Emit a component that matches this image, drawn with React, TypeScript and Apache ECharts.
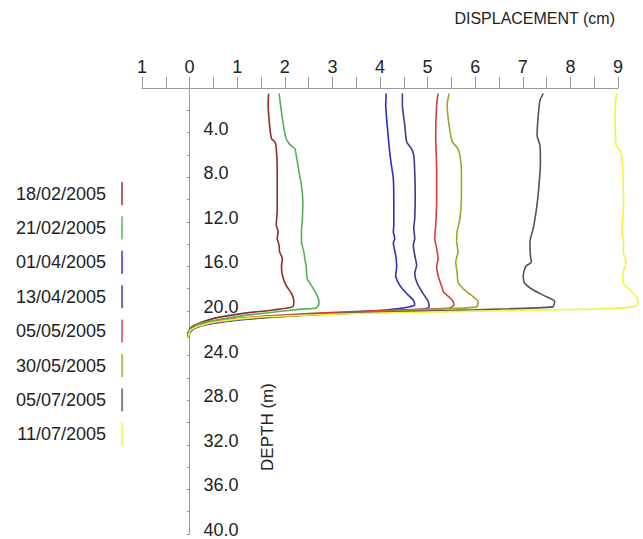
import React, { useEffect, useRef } from "react";
import * as echarts from "echarts";

const FONT = "'Liberation Sans', Arial, sans-serif";

const dates = [
  "18/02/2005",
  "21/02/2005",
  "01/04/2005",
  "13/04/2005",
  "05/05/2005",
  "30/05/2005",
  "05/07/2005",
  "11/07/2005",
];

const colors = ["#8b2e2e", "#55b055", "#2f2fc4", "#3b3b86", "#d63c3c", "#a3a32a", "#555555", "#f2f244"];

// [displacement (cm), depth (m)]
const s1802 = [[1.66,0.5],[1.65,1.5],[1.68,3.3],[1.72,4.5],[1.79,4.8],[1.82,5.3],[1.84,7.2],[1.84,9.3],[1.84,11.0],[1.82,12.2],[1.86,12.8],[1.84,13.4],[1.88,14.0],[1.89,14.6],[1.95,15.2],[1.93,15.9],[1.95,16.7],[2.03,17.6],[2.14,18.3],[2.19,19.0],[2.16,19.5],[1.79,19.75],[1.09,20.1],[0.53,20.5],[0.17,21.0],[0.04,21.3],[-0.04,21.9],[-0.03,22.2]];
const s2102 = [[1.88,0.5],[1.91,1.5],[1.96,3.0],[2.02,4.4],[2.10,5.0],[2.21,5.4],[2.24,6.0],[2.30,7.5],[2.35,8.7],[2.38,10.2],[2.37,11.6],[2.35,12.8],[2.35,13.7],[2.40,14.6],[2.42,15.2],[2.45,15.9],[2.47,17.0],[2.59,17.8],[2.70,18.7],[2.72,19.2],[2.66,19.6],[2.35,19.7],[1.79,19.95],[1.09,20.3],[0.53,20.7],[0.17,21.05],[0.04,21.4],[-0.04,21.9],[-0.03,22.2]];
const s0104 = [[4.13,0.5],[4.12,1.5],[4.17,4.2],[4.22,6.3],[4.28,8.1],[4.29,10.2],[4.29,12.2],[4.28,12.8],[4.31,13.4],[4.28,13.8],[4.33,14.9],[4.35,15.9],[4.33,16.7],[4.42,17.6],[4.56,18.3],[4.70,18.9],[4.73,19.3],[4.55,19.55],[3.89,19.85],[2.49,20.2],[1.09,20.65],[0.39,21.05],[0.11,21.4],[0.0,21.8],[-0.03,22.2]];
const s1304 = [[4.47,0.5],[4.47,1.5],[4.52,3.3],[4.56,4.8],[4.66,5.4],[4.71,6.0],[4.73,7.5],[4.74,9.6],[4.73,11.6],[4.71,12.5],[4.73,13.4],[4.70,14.0],[4.73,14.9],[4.77,15.8],[4.73,16.5],[4.78,17.4],[4.89,18.2],[5.01,19.0],[5.03,19.5],[4.94,19.7],[3.89,19.9],[2.49,20.2],[1.09,20.6],[0.39,21.0],[0.11,21.35],[0.0,21.8],[-0.03,22.2]];
const s0505 = [[5.22,0.5],[5.19,1.5],[5.17,4.2],[5.19,7.2],[5.19,10.2],[5.17,12.2],[5.15,13.4],[5.19,14.3],[5.22,15.2],[5.19,15.9],[5.22,16.7],[5.29,17.6],[5.34,18.2],[5.52,18.9],[5.55,19.3],[5.47,19.6],[3.89,19.85],[2.49,20.1],[1.09,20.5],[0.39,20.95],[0.11,21.3],[0.0,21.8],[-0.03,22.2]];
const s3005 = [[5.45,0.5],[5.41,1.5],[5.45,3.3],[5.52,4.8],[5.62,5.3],[5.68,6.0],[5.71,7.5],[5.71,9.6],[5.68,11.6],[5.62,12.8],[5.61,13.7],[5.64,14.6],[5.59,15.5],[5.62,16.4],[5.64,17.3],[5.78,18.0],[5.96,18.6],[6.06,19.0],[6.03,19.5],[5.5,19.65],[3.89,19.95],[2.49,20.25],[1.09,20.6],[0.39,21.0],[0.11,21.35],[0.0,21.8],[-0.03,22.2]];
const s0507 = [[7.43,0.5],[7.36,1.1],[7.32,2.7],[7.30,4.2],[7.36,5.1],[7.37,6.6],[7.34,8.7],[7.29,10.7],[7.22,12.5],[7.15,13.7],[7.16,14.9],[7.18,15.5],[7.06,15.9],[7.01,16.7],[7.04,17.4],[7.22,18.0],[7.50,18.6],[7.67,19.0],[7.63,19.5],[6.0,19.75],[3.89,20.0],[2.49,20.2],[1.09,20.6],[0.39,21.0],[0.11,21.35],[0.0,21.8],[-0.03,22.2]];
const s1107 = [[8.97,0.5],[8.94,1.5],[8.96,5.1],[9.06,5.7],[9.10,7.2],[9.11,8.7],[9.12,9.9],[9.10,11.6],[9.08,12.8],[9.12,13.7],[9.11,14.6],[9.17,15.5],[9.11,16.4],[9.10,17.3],[9.25,18.0],[9.39,18.6],[9.42,19.2],[9.32,19.5],[8.5,19.7],[6.5,19.85],[4.5,20.0],[3.0,20.15],[1.5,20.4],[0.6,20.8],[0.2,21.2],[0.02,21.6],[-0.03,22.2]];

const seriesData = [s1802, s2102, s0104, s1304, s0505, s3005, s0507, s1107];

const xTitle = "DISPLACEMENT (cm)";
const yTitle = "DEPTH (m)";

// axis extents
const X_MIN = -1;
const X_MAX = 9;
const X_DATA_MAX = 9.5;
const Y_MIN = 0;
const Y_MAX = 40;

export default function App() {
  const ref = useRef<HTMLDivElement>(null);

  useEffect(() => {
    if (!ref.current) return;
    const chart = echarts.init(ref.current, undefined, { renderer: "svg" });
    const axisColor = "#9a9a9a";
    const W = 643;
    const left = 142;
    const right = 25;
    const pxPerUnit = (W - left - right) / (X_MAX - X_MIN);
    const dataRight = W - left - pxPerUnit * (X_DATA_MAX - X_MIN);
    const zeroX = left + pxPerUnit * (0 - X_MIN);
    const hiddenAxis = { show: false };

    chart.setOption({
      animation: false,
      backgroundColor: "#ffffff",
      textStyle: { fontFamily: FONT },
      grid: [
        { left, right, top: 88, bottom: 2, containLabel: false },
        { left: 0, right: W - zeroX, top: 88, bottom: 2, containLabel: false },
        { left, right: dataRight, top: 88, bottom: 2, containLabel: false },
      ],
      xAxis: [
        {
          gridIndex: 0,
          type: "value",
          position: "top",
          min: X_MIN,
          max: X_MAX,
          interval: 0.5,
          axisLine: { onZero: false, lineStyle: { color: axisColor, width: 1 } },
          axisTick: { show: true, length: 11, lineStyle: { color: axisColor } },
          splitLine: { show: false },
          axisLabel: {
            margin: 12,
            fontSize: 18,
            color: "#222",
            fontFamily: FONT,
            formatter: (v: number) => (Number.isInteger(v) ? String(Math.abs(v)) : ""),
          },
        },
        { gridIndex: 1, type: "value", min: 0, max: 1, ...hiddenAxis },
        { gridIndex: 2, type: "value", min: X_MIN, max: X_DATA_MAX, ...hiddenAxis },
      ],
      yAxis: [
        { gridIndex: 0, type: "value", inverse: true, min: Y_MIN, max: Y_MAX, ...hiddenAxis },
        {
          gridIndex: 1,
          type: "value",
          position: "right",
          inverse: true,
          min: Y_MIN,
          max: Y_MAX,
          interval: 2,
          axisLine: { show: true, onZero: false, lineStyle: { color: axisColor, width: 1 } },
          axisTick: { show: true, inside: true, length: 3, lineStyle: { color: axisColor } },
          splitLine: { show: false },
          axisLabel: {
            margin: 14,
            fontSize: 18,
            color: "#222",
            fontFamily: FONT,
            verticalAlign: "bottom",
            lineHeight: 8,
            formatter: (v: number) => (v !== 0 && v % 4 === 0 ? v.toFixed(1) : ""),
          },
        },
        { gridIndex: 2, type: "value", inverse: true, min: Y_MIN, max: Y_MAX, ...hiddenAxis },
      ],
      legend: {
        orient: "vertical",
        left: 16,
        top: 182,
        padding: 0,
        align: "right",
        icon: "rect",
        itemWidth: 2,
        itemHeight: 23,
        itemGap: 11.4,
        data: dates,
        itemStyle: { opacity: 0.75 },
        textStyle: { fontSize: 18, color: "#222", fontFamily: FONT, padding: [0, 10, 0, 0] },
      },
      graphic: [
        {
          type: "text",
          x: 615,
          y: 18,
          style: {
            text: xTitle,
            fill: "#222",
            font: `16px ${FONT}`,
            textAlign: "right",
            textVerticalAlign: "middle",
            align: "right",
            verticalAlign: "middle",
          },
        },
        {
          type: "text",
          x: 267,
          y: 427,
          rotation: Math.PI / 2,
          style: {
            text: yTitle,
            fill: "#222",
            font: `17px ${FONT}`,
            textAlign: "center",
            textVerticalAlign: "middle",
            align: "center",
            verticalAlign: "middle",
          },
        },
      ],
      series: dates.map((name, i) => ({
        name,
        type: "line",
        xAxisIndex: 2,
        yAxisIndex: 2,
        data: seriesData[i],
        showSymbol: false,
        symbol: "none",
        clip: false,
        smooth: 0.2,
        lineStyle: { color: colors[i], width: 1.6 },
        itemStyle: { color: colors[i] },
        z: 2 + i,
      })),
    });
    return () => chart.dispose();
  }, []);

  return (
    <div
      ref={ref}
      style={{ position: "fixed", left: 0, top: 0, width: 643, height: 539, background: "#fff" }}
    />
  );
}
